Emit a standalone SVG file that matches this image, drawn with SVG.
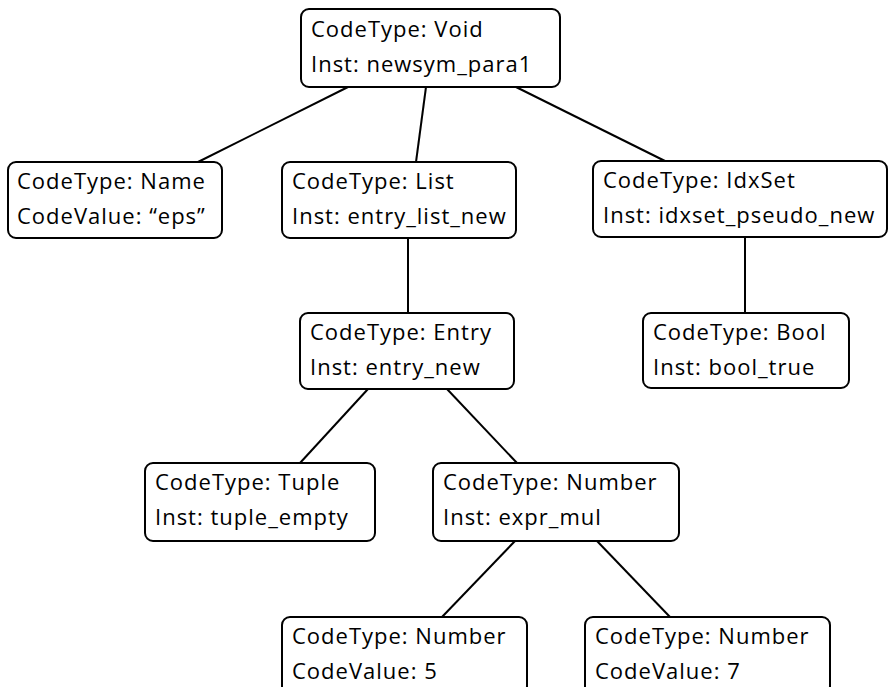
<svg xmlns="http://www.w3.org/2000/svg" width="891" height="687" viewBox="0 0 891 687">
<style>
rect.box{fill:#fff;stroke:#000;stroke-width:2}
text{font-family:"Open Sans","Noto Sans",sans-serif;font-size:22px;letter-spacing:1px;fill:#000}
line{stroke:#000;stroke-width:2}
</style>
<rect width="891" height="687" fill="#fff"/>
<g id="connectors">
<line x1="348" y1="87" x2="198" y2="162"/>
<line x1="426" y1="87" x2="416" y2="162"/>
<line x1="516" y1="87" x2="665" y2="161"/>
<line x1="408" y1="238" x2="408" y2="313"/>
<line x1="745" y1="237" x2="745" y2="313"/>
<line x1="368" y1="389" x2="300" y2="463"/>
<line x1="447" y1="389" x2="517" y2="463"/>
<line x1="515" y1="541" x2="442" y2="617"/>
<line x1="597" y1="541" x2="670" y2="617"/>
</g>
<g id="root"><rect class="box" x="301" y="9" width="259" height="78" rx="8"/><text x="311" y="37">CodeType: Void</text><text x="311" y="72">Inst: newsym_para1</text></g>
<g id="name"><rect class="box" x="8" y="162" width="214" height="76" rx="8"/><text x="17" y="189">CodeType: Name</text><text x="17" y="224">CodeValue: “eps”</text></g>
<g id="list"><rect class="box" x="282" y="162" width="234" height="76" rx="8"/><text x="292" y="189">CodeType: List</text><text x="292" y="224">Inst: entry_list_new</text></g>
<g id="idxset"><rect class="box" x="593" y="161" width="294" height="76" rx="8"/><text x="603" y="188">CodeType: IdxSet</text><text x="603" y="223">Inst: idxset_pseudo_new</text></g>
<g id="entry"><rect class="box" x="300" y="313" width="214" height="76" rx="8"/><text x="310" y="340">CodeType: Entry</text><text x="310" y="375">Inst: entry_new</text></g>
<g id="bool"><rect class="box" x="643" y="313" width="206" height="75" rx="8"/><text x="653" y="340">CodeType: Bool</text><text x="653" y="375">Inst: bool_true</text></g>
<g id="tuple"><rect class="box" x="145" y="463" width="230" height="78" rx="8"/><text x="155" y="490">CodeType: Tuple</text><text x="155" y="525">Inst: tuple_empty</text></g>
<g id="exprmul"><rect class="box" x="433" y="463" width="246" height="78" rx="8"/><text x="443" y="490">CodeType: Number</text><text x="443" y="525">Inst: expr_mul</text></g>
<g id="num5"><rect class="box" x="282" y="617" width="245" height="77" rx="8"/><text x="292" y="644">CodeType: Number</text><text x="292" y="679">CodeValue: 5</text></g>
<g id="num7"><rect class="box" x="585" y="617" width="245" height="77" rx="8"/><text x="595" y="644">CodeType: Number</text><text x="595" y="679">CodeValue: 7</text></g>
</svg>
